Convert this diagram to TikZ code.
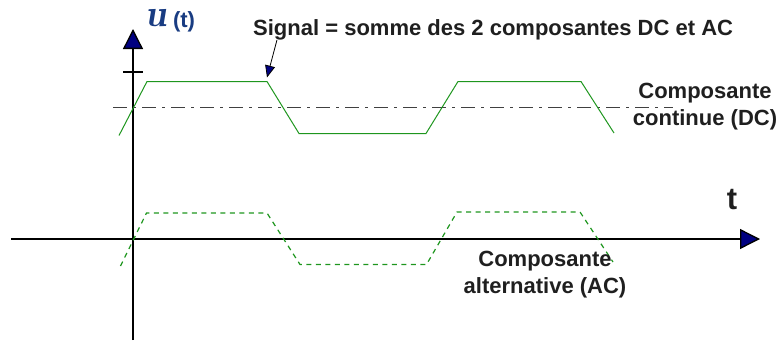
\documentclass[tikz,border=0pt]{standalone}
\usepackage{amsmath, amssymb}
\usepackage{fontspec}
\setmainfont{Liberation Sans}
\usepackage{tikz}
\usetikzlibrary{positioning}
\usetikzlibrary{arrows.meta}
\usepackage{xcolor}
\definecolor{sigGreen}{RGB}{30,150,30}
\definecolor{tipBlue}{RGB}{0,0,128}
\definecolor{labelBlue}{RGB}{25,60,130}

\begin{document}
\begin{tikzpicture}[x=1pt, y=-1pt,
  axis/.style={line width=1.3pt, -{Triangle[length=20pt, width=20pt, fill=tipBlue]}},
  sig/.style={sigGreen, line width=1pt},
  comp/.style={sigGreen, line width=1.2pt, dash pattern=on 5pt off 4.5pt},
  dcline/.style={black!75, line width=1.2pt, dash pattern=on 14pt off 6pt on 3pt off 6pt},
  lbl/.style={font=\fontsize{22}{27}\selectfont\bfseries, text=black!88, inner sep=0pt, align=center}]
  \useasboundingbox (0,0) rectangle (778,340);
  \coordinate (ybot) at (133,340);
  \coordinate (ytop) at (133,29);
  \coordinate (xleft) at (11,239);
  \coordinate (xright) at (760,239);
  \coordinate (tick) at (133,72);
  \coordinate (dcL) at (113,107.5);
  \coordinate (dcR) at (673,107.5);
  \draw[axis] (ybot) -- (ytop);
  \draw[axis] (xleft) -- (xright);
  \draw[line width=2pt] ([xshift=-10pt]tick) -- ([xshift=10pt]tick);
  \draw[dcline] (dcL) -- (dcR);
  % signal
  \draw[sig] (119,135.5) -- (147,81.5) -- (267,81.5) coordinate (top1) -- (299,133.5)
    -- (426,133.5) -- (458,81.5) -- (581,81.5) -- (614,133);
  % AC part
  \draw[comp] (120.5,266) -- (146.5,213) -- (267,213) -- (300,264.5)
    -- (426.5,264.5) -- (457,212) -- (580,212) -- (613,262);
  \node[text=labelBlue, inner sep=1pt, anchor=base, font=\fontfamily{lmr}\fontsize{38}{38}\selectfont\bfseries\itshape] (ulabel) at (156.5,27) {u};
  \node[text=labelBlue, inner sep=1pt, anchor=base, font=\fontsize{22}{22}\selectfont\bfseries] (tpar) at (184,27.5) {(t)};
  \node[lbl, anchor=base west] (sum) at (253,35) {Signal = somme des 2 composantes DC et AC};
  \draw[line width=0.8pt, -{Triangle[length=12pt, width=10pt, fill=tipBlue]}]
    ([xshift=24pt]sum.south west) -- ([yshift=4pt]top1);
  \node[lbl] (dc) at (705,106.5) {Composante\\continue (DC)};
  \node[lbl] (ac) at (545,275) {Composante\\alternative (AC)};
  \node[font=\fontsize{31}{31}\selectfont\bfseries, text=black!88] (tlabel) at (732,200) {t};
\end{tikzpicture}
\end{document}
